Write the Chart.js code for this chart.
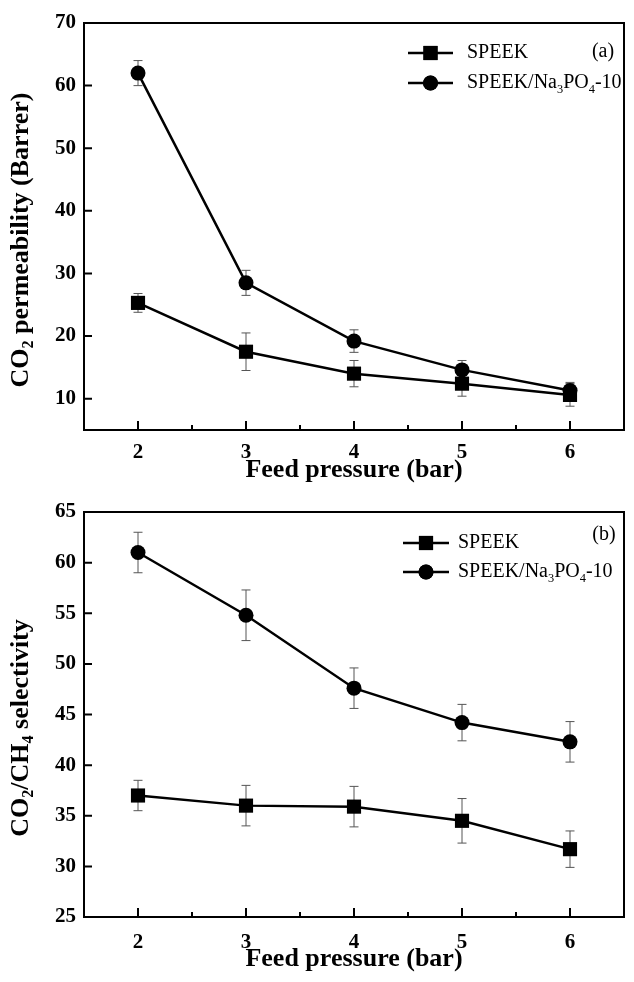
<!DOCTYPE html>
<html>
<head>
<meta charset="utf-8">
<script src="https://cdn.jsdelivr.net/npm/chart.js@4.4.0/dist/chart.umd.min.js"></script>
<style>
  body { margin: 0; background: #fff; }
  #wrap { position: relative; width: 634px; height: 982px; }
  canvas { position: absolute; left: 0; }
</style>
</head>
<body>
<div id="wrap">
  <canvas id="chartA" width="634" height="489" style="top:0px"></canvas>
  <canvas id="chartB" width="634" height="493" style="top:489px"></canvas>
</div>
<script>
// feed pressure (bar)
const pressures = [2, 3, 4, 5, 6];
const xTicks = [2, 3, 4, 5, 6];
const xMinorTicks = [2.5, 3.5, 4.5, 5.5];
const seriesNames = ['SPEEK', 'SPEEK/Na₃PO₄-10'];

// (a) CO2 permeability, Barrer
const permSpeek = [25.3, 17.5, 14.0, 12.4, 10.6];
const permSpeekErr = [1.5, 3.0, 2.1, 2.0, 1.8];
const permNa = [62.0, 28.5, 19.2, 14.6, 11.3];
const permNaErr = [2.0, 2.0, 1.8, 1.5, 1.3];
const permTicks = [10, 20, 30, 40, 50, 60, 70];

// (b) CO2/CH4 selectivity
const selSpeek = [37.0, 36.0, 35.9, 34.5, 31.7];
const selSpeekErr = [1.5, 2.0, 2.0, 2.2, 1.8];
const selNa = [61.0, 54.8, 47.6, 44.2, 42.3];
const selNaErr = [2.0, 2.5, 2.0, 1.8, 2.0];
const selTicks = [25, 30, 35, 40, 45, 50, 55, 60, 65];

const FONT = '"Liberation Serif", "Times New Roman", serif';
const SUB = '₀₁₂₃₄₅₆₇₈₉';

// draw text, turning unicode subscript digits into small lowered digits
function richText(ctx, text, x, y, size, weight, align) {
  const runs = [];
  for (const ch of text) {
    const k = SUB.indexOf(ch);
    const sub = k >= 0;
    const c = sub ? String(k) : ch;
    if (runs.length && runs[runs.length - 1].sub === sub) runs[runs.length - 1].t += c;
    else runs.push({ t: c, sub: sub });
  }
  const font = s => weight + ' ' + s + 'px ' + FONT;
  let w = 0;
  runs.forEach(r => {
    ctx.font = font(r.sub ? size * 0.62 : size);
    r.w = ctx.measureText(r.t).width;
    w += r.w;
  });
  let cx = align === 'center' ? x - w / 2 : x;
  ctx.textBaseline = 'middle';
  ctx.textAlign = 'left';
  runs.forEach(r => {
    ctx.font = font(r.sub ? size * 0.62 : size);
    ctx.fillText(r.t, cx, r.sub ? y + size * 0.32 : y);
    cx += r.w;
  });
}

const paper = {
  id: 'paper',
  beforeDatasetsDraw(chart, args, opts) {
    const ctx = chart.ctx, xs = chart.scales.x, ys = chart.scales.y;
    ctx.save();
    ctx.strokeStyle = '#555';
    ctx.lineWidth = 1;
    chart.data.datasets.forEach((ds, i) => {
      const err = opts.errors[i];
      ds.data.forEach((p, j) => {
        const px = xs.getPixelForValue(p.x);
        const t = ys.getPixelForValue(p.y + err[j]);
        const b = ys.getPixelForValue(p.y - err[j]);
        ctx.beginPath();
        ctx.moveTo(px, t); ctx.lineTo(px, b);
        ctx.moveTo(px - 4.5, t); ctx.lineTo(px + 4.5, t);
        ctx.moveTo(px - 4.5, b); ctx.lineTo(px + 4.5, b);
        ctx.stroke();
      });
    });
    ctx.restore();
  },
  afterDraw(chart, args, opts) {
    const ctx = chart.ctx, a = chart.chartArea, xs = chart.scales.x, ys = chart.scales.y;
    ctx.save();
    ctx.strokeStyle = '#000';
    ctx.fillStyle = '#000';
    ctx.lineWidth = 2;
    ctx.strokeRect(a.left, a.top, a.right - a.left, a.bottom - a.top);

    // inward ticks
    ctx.beginPath();
    xTicks.forEach(v => {
      const px = xs.getPixelForValue(v);
      ctx.moveTo(px, a.bottom); ctx.lineTo(px, a.bottom - 9);
    });
    xMinorTicks.forEach(v => {
      const px = xs.getPixelForValue(v);
      ctx.moveTo(px, a.bottom); ctx.lineTo(px, a.bottom - 5);
    });
    opts.yTicks.forEach(v => {
      const py = ys.getPixelForValue(v);
      ctx.moveTo(a.left, py); ctx.lineTo(a.left + 8, py);
    });
    ctx.stroke();

    // legend inside the plot
    const lg = opts.legend;
    chart.data.datasets.forEach((ds, i) => {
      const ly = lg.y[i];
      ctx.beginPath();
      ctx.lineWidth = 2.5;
      ctx.moveTo(lg.x1, ly); ctx.lineTo(lg.x2, ly);
      ctx.stroke();
      Chart.helpers.drawPoint(ctx, {
        pointStyle: ds.pointStyle, radius: ds.pointRadius, borderWidth: 0
      }, (lg.x1 + lg.x2) / 2, ly);
      ctx.fill();
      richText(ctx, ds.label, lg.tx, ly, 20, 'normal', 'left');
    });
    richText(ctx, opts.tag, opts.tagX, opts.tagY, 20, 'normal', 'center');

    // y axis title
    ctx.translate(opts.titleX, opts.titleY);
    ctx.rotate(-Math.PI / 2);
    richText(ctx, opts.yTitle, 0, 0, 26, 'bold', 'center');
    ctx.restore();
  }
};

function makeChart(id, a, b, errA, errB, yMin, yMax, yTicks, axisH, tickPad, titlePad, extra) {
  return new Chart(document.getElementById(id), {
    type: 'line',
    data: {
      datasets: [
        {
          label: seriesNames[0],
          data: pressures.map((p, i) => ({ x: p, y: a[i] })),
          borderColor: '#000', backgroundColor: '#000', borderWidth: 2.5,
          pointStyle: 'rect', pointRadius: 10, pointHoverRadius: 10, pointBorderWidth: 0
        },
        {
          label: seriesNames[1],
          data: pressures.map((p, i) => ({ x: p, y: b[i] })),
          borderColor: '#000', backgroundColor: '#000', borderWidth: 2.5,
          pointStyle: 'circle', pointRadius: 7.5, pointHoverRadius: 7.5, pointBorderWidth: 0
        }
      ]
    },
    options: {
      responsive: false,
      animation: false,
      layout: { padding: { top: 23, right: 1, left: 0, bottom: 0 } },
      plugins: {
        legend: { display: false },
        tooltip: { enabled: false },
        paper: Object.assign({ errors: [errA, errB], yTicks: yTicks }, extra)
      },
      scales: {
        x: {
          type: 'linear', min: 1.5, max: 6.5,
          afterBuildTicks: s => { s.ticks = xTicks.map(v => ({ value: v })); },
          afterFit: s => { s.height = axisH; },
          grid: { display: false, drawTicks: false },
          border: { display: false },
          ticks: { padding: tickPad, color: '#000', font: { family: FONT, size: 21, weight: 'bold' } },
          title: {
            display: true, text: 'Feed pressure (bar)', color: '#000', padding: titlePad,
            font: { family: FONT, size: 26, weight: 'bold' }
          }
        },
        y: {
          min: yMin, max: yMax,
          afterBuildTicks: s => { s.ticks = yTicks.map(v => ({ value: v })); },
          afterFit: s => { s.width = 84; },
          grid: { display: false, drawTicks: false },
          border: { display: false },
          ticks: { padding: 8, color: '#000', font: { family: FONT, size: 21, weight: 'bold' } }
        }
      }
    },
    plugins: [paper]
  });
}

makeChart('chartA', permSpeek, permNa, permSpeekErr, permNaErr, 5, 70, permTicks, 59, 10, 3, {
  yTitle: 'CO₂ permeability (Barrer)', titleX: 21, titleY: 240,
  tag: '(a)', tagX: 603, tagY: 52,
  legend: { x1: 408, x2: 453, tx: 467, y: [53, 83] }
});

makeChart('chartB', selSpeek, selNa, selSpeekErr, selNaErr, 25, 65, selTicks, 65, 13, 7, {
  yTitle: 'CO₂/CH₄ selectivity', titleX: 21, titleY: 239,
  tag: '(b)', tagX: 604, tagY: 46,
  legend: { x1: 403, x2: 449, tx: 458, y: [54, 83] }
});
</script>
</body>
</html>
